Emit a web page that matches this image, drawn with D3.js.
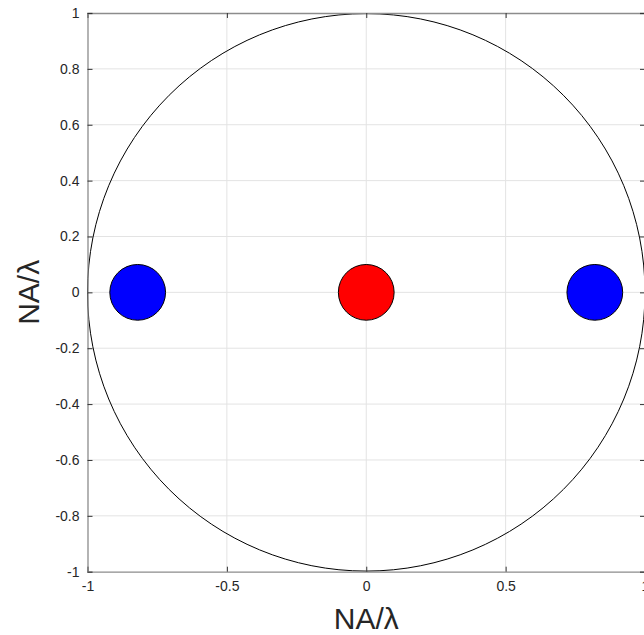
<!DOCTYPE html>
<html>
<head>
<meta charset="utf-8">
<script src="https://cdn.jsdelivr.net/npm/d3@7"></script>
<style>
  body { margin: 0; background: #fff; }
  text { font-family: "Liberation Sans", Arial, sans-serif; }
</style>
</head>
<body>
<div id="chart"></div>
<script>
// pupil data
var xTicks = [-1, -0.5, 0, 0.5, 1];
var xTickLabels = ["-1", "-0.5", "0", "0.5", "1"];
var yTicks = [-1, -0.8, -0.6, -0.4, -0.2, 0, 0.2, 0.4, 0.6, 0.8, 1];
var yTickLabels = ["-1", "-0.8", "-0.6", "-0.4", "-0.2", "0", "0.2", "0.4", "0.6", "0.8", "1"];
var spotX = [-0.82, 0, 0.82];
var spotY = [0, 0, 0];
var spotR = [0.1, 0.1, 0.1];
var spotColor = ["#0000ff", "#ff0000", "#0000ff"];
var pupilRadius = 1;

var width = 644, height = 635;
var plotLeft = 87.5, plotRight = 645, plotTop = 13, plotBottom = 571.7;

var svg = d3.select("#chart").append("svg")
    .attr("width", width)
    .attr("height", height);

var x = d3.scaleLinear().domain([-1, 1]).range([plotLeft, plotRight]);
var y = d3.scaleLinear().domain([-1, 1]).range([plotBottom, plotTop]);

// grid
var grid = svg.append("g").attr("stroke", "#e3e3e3").attr("stroke-width", 1);
grid.selectAll(".vg").data(xTicks.slice(1, -1)).enter().append("line")
    .attr("x1", function (d) { return x(d); }).attr("x2", function (d) { return x(d); })
    .attr("y1", plotTop).attr("y2", plotBottom);
grid.selectAll(".hg").data(yTicks.slice(1, -1)).enter().append("line")
    .attr("y1", function (d) { return y(d); }).attr("y2", function (d) { return y(d); })
    .attr("x1", plotLeft).attr("x2", plotRight);

// pupil outline
svg.append("circle")
    .attr("cx", x(0)).attr("cy", y(0))
    .attr("r", x(pupilRadius) - x(0))
    .attr("fill", "none")
    .attr("stroke", "#000")
    .attr("stroke-width", 1);

// spots
svg.append("g").selectAll("circle").data(spotX).enter().append("circle")
    .attr("cx", function (d) { return x(d); })
    .attr("cy", function (d, i) { return y(spotY[i]); })
    .attr("r", function (d, i) { return x(spotR[i]) - x(0); })
    .attr("fill", function (d, i) { return spotColor[i]; })
    .attr("stroke", "#000")
    .attr("stroke-width", 1);

// axes (ticks inward, box on)
var axisColor = "#8c8c8c";
var bottomAxis = svg.append("g").attr("transform", "translate(0," + plotBottom + ")")
    .call(d3.axisBottom(x).tickValues(xTicks).tickSize(-5).tickPadding(9)
        .tickFormat(function (d, i) { return xTickLabels[i]; }));
var topAxis = svg.append("g").attr("transform", "translate(0," + plotTop + ")")
    .call(d3.axisTop(x).tickValues(xTicks).tickSize(-5).tickFormat(""));
var leftAxis = svg.append("g").attr("transform", "translate(" + plotLeft + ",0)")
    .call(d3.axisLeft(y).tickValues(yTicks).tickSize(-5).tickPadding(8)
        .tickFormat(function (d, i) { return yTickLabels[i]; }));
var rightAxis = svg.append("g").attr("transform", "translate(" + plotRight + ",0)")
    .call(d3.axisRight(y).tickValues(yTicks).tickSize(-5).tickFormat(""));

[bottomAxis, topAxis, leftAxis, rightAxis].forEach(function (a) {
    a.select(".domain").attr("stroke", axisColor).attr("stroke-width", 1.3);
    a.selectAll(".tick line").attr("stroke", "#333");
    a.selectAll(".tick text").attr("fill", "#262626").style("font-size", "14px");
});

// labels
svg.append("text")
    .attr("x", x(0)).attr("y", 629)
    .attr("text-anchor", "middle")
    .attr("fill", "#262626")
    .style("font-size", "30px")
    .text("NA/λ");

svg.append("text")
    .attr("transform", "translate(39," + y(0) + ") rotate(-90)")
    .attr("text-anchor", "middle")
    .attr("fill", "#262626")
    .style("font-size", "30px")
    .text("NA/λ");
</script>
</body>
</html>
